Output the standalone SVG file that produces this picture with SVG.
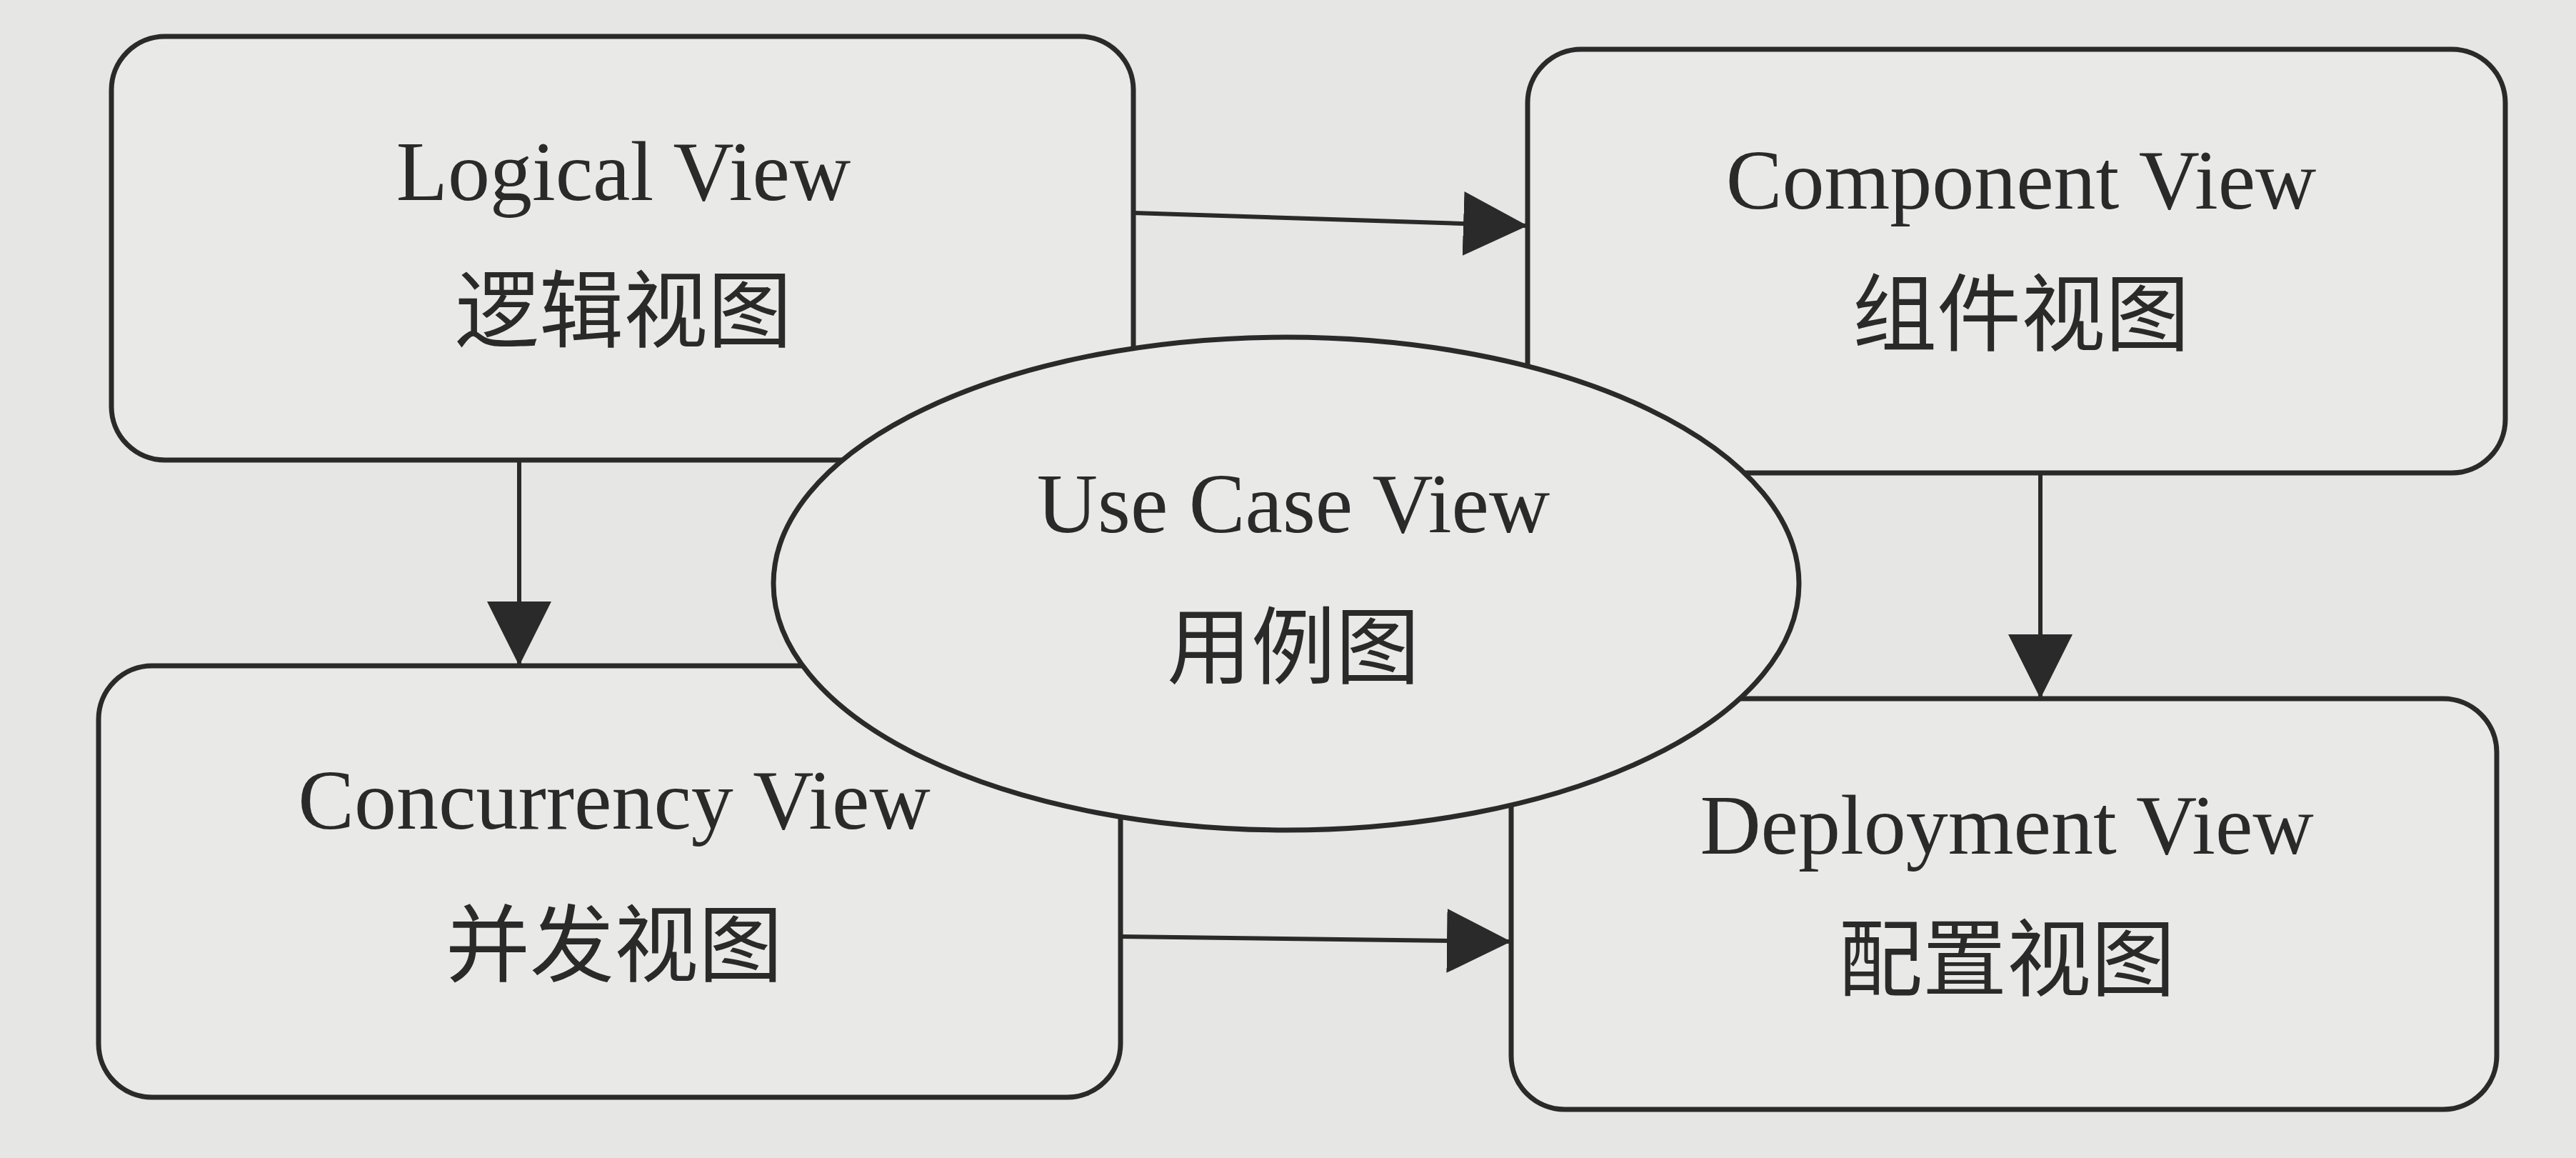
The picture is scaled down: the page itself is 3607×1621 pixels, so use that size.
<svg xmlns="http://www.w3.org/2000/svg" width="3607" height="1621" viewBox="0 0 3607 1621">
<style>
.box{fill:#e9e9e7;stroke:#2a2a2a;stroke-width:7}
.en{font-family:"Liberation Serif",serif;font-size:118px;fill:#2a2a2a;text-anchor:middle}
.zh{font-family:"Liberation Serif","Noto Sans CJK SC",serif;font-size:118px;fill:#2a2a2a;text-anchor:middle}
.ln{stroke:#2a2a2a;stroke-width:6;fill:none}
</style>
<defs>
<marker id="a" viewBox="0 0 10 10" refX="10" refY="5" markerWidth="15" markerHeight="15" orient="auto"><path d="M0,0L10,5L0,10z" fill="#2a2a2a"/></marker></defs>
<rect width="3607" height="1621" fill="#e6e6e4"/>
<g id="connectors">
<path class="ln" d="M1587,298L2139,316" marker-end="url(#a)"/>
<path class="ln" d="M727,644L727,932" marker-end="url(#a)"/>
<path class="ln" d="M2857,662L2857,978" marker-end="url(#a)"/>
<path class="ln" d="M1569,1311L2116,1318" marker-end="url(#a)"/>
</g>
<g id="logical"><rect class="box" x="156" y="51" width="1431" height="593" rx="75"/><text class="en" x="873" y="280">Logical View</text><text class="zh" x="873" y="477">逻辑视图</text></g>
<g id="component"><rect class="box" x="2139" y="69" width="1369" height="593" rx="75"/><text class="en" x="2830" y="292">Component View</text><text class="zh" x="2830" y="482">组件视图</text></g>
<g id="concurrency"><rect class="box" x="138" y="932" width="1431" height="604" rx="75"/><text class="en" x="860" y="1160">Concurrency View</text><text class="zh" x="860" y="1365">并发视图</text></g>
<g id="deployment"><rect class="box" x="2116" y="978" width="1380" height="575" rx="75"/><text class="en" x="2810" y="1195">Deployment View</text><text class="zh" x="2810" y="1385">配置视图</text></g>
<g id="usecase"><ellipse class="box" cx="1801" cy="817" rx="718" ry="345"/><text class="en" x="1811" y="745">Use Case View</text><text class="zh" x="1811" y="948">用例图</text></g>
</svg>
